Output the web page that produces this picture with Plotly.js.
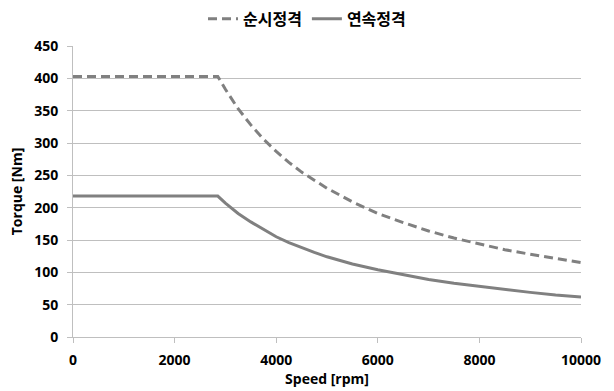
<!DOCTYPE html>
<html>
<head>
<meta charset="utf-8">
<script src="https://cdn.plot.ly/plotly-3.0.1.min.js"></script>
<style>html,body{margin:0;padding:0;background:#fff;}#chart{width:614px;height:391px;}</style>
</head>
<body>
<div id="chart"></div>
<script>
const speed = [0, 2850, 3000, 3250, 3500, 3750, 4000, 4250, 4500, 4750, 5000, 5500, 6000, 6500, 7000, 7500, 8000, 8500, 9000, 9500, 10000];
const peakTorque = [403, 403, 383, 353, 328, 306, 287, 270, 255, 242, 230, 209, 191, 177, 164, 153, 144, 135, 128, 121, 115];
const contTorque = [218, 218, 207, 191, 178, 166, 155, 146, 138, 131, 124, 113, 104, 96, 89, 83, 78, 73, 69, 65, 62];
const seriesNames = ["순시정격", "연속정격"];
const xTicks = [0, 2000, 4000, 6000, 8000, 10000];
const yTicks = [0, 50, 100, 150, 200, 250, 300, 350, 400, 450];

const fontFam = "'Open Sans', 'Noto Sans CJK KR', sans-serif";
const traces = [
  {x: speed, y: peakTorque, name: seriesNames[0], mode: "lines",
   line: {color: "#808080", width: 3, dash: "9px,5px"}},
  {x: speed, y: contTorque, name: seriesNames[1], mode: "lines",
   line: {color: "#808080", width: 3}}
];
const layout = {
  width: 614, height: 391,
  margin: {l: 73, r: 33, t: 46, b: 54},
  paper_bgcolor: "#fff", plot_bgcolor: "#fff",
  font: {family: fontFam, size: 14, color: "#000", weight: "bold"},
  showlegend: true,
  legend: {orientation: "h", x: 0.5, xref: "container", xanchor: "center", y: 0.952, yanchor: "middle", yref: "container",
           font: {family: "'Noto Sans CJK KR', sans-serif", size: 16, weight: "bold"}, itemwidth: 30},
  xaxis: {range: [0, 10000], tickvals: xTicks, ticktext: xTicks.map(String),
          showgrid: false, zeroline: false, showline: true, linecolor: "#bfbfbf", linewidth: 1,
          ticks: "outside", ticklen: 5, tickcolor: "#bfbfbf", ticklabelstandoff: 5,
          tickfont: {family: fontFam, size: 14, weight: "bold"},
          title: {text: "Speed [rpm]", standoff: 5, font: {family: fontFam, size: 14, weight: "bold"}}},
  yaxis: {range: [0, 450], tickvals: yTicks, ticktext: yTicks.map(String),
          showgrid: true, gridcolor: "#bfbfbf", gridwidth: 1, zeroline: false,
          showline: true, linecolor: "#bfbfbf", linewidth: 1,
          ticks: "outside", ticklen: 5, tickcolor: "#bfbfbf", ticklabelstandoff: 6,
          tickfont: {family: fontFam, size: 14, weight: "bold"},
          title: {text: "Torque [Nm]", standoff: 8, font: {family: fontFam, size: 14, weight: "bold"}}}
};
Plotly.newPlot("chart", traces, layout, {displayModeBar: false, staticPlot: true});
</script>
</body>
</html>
